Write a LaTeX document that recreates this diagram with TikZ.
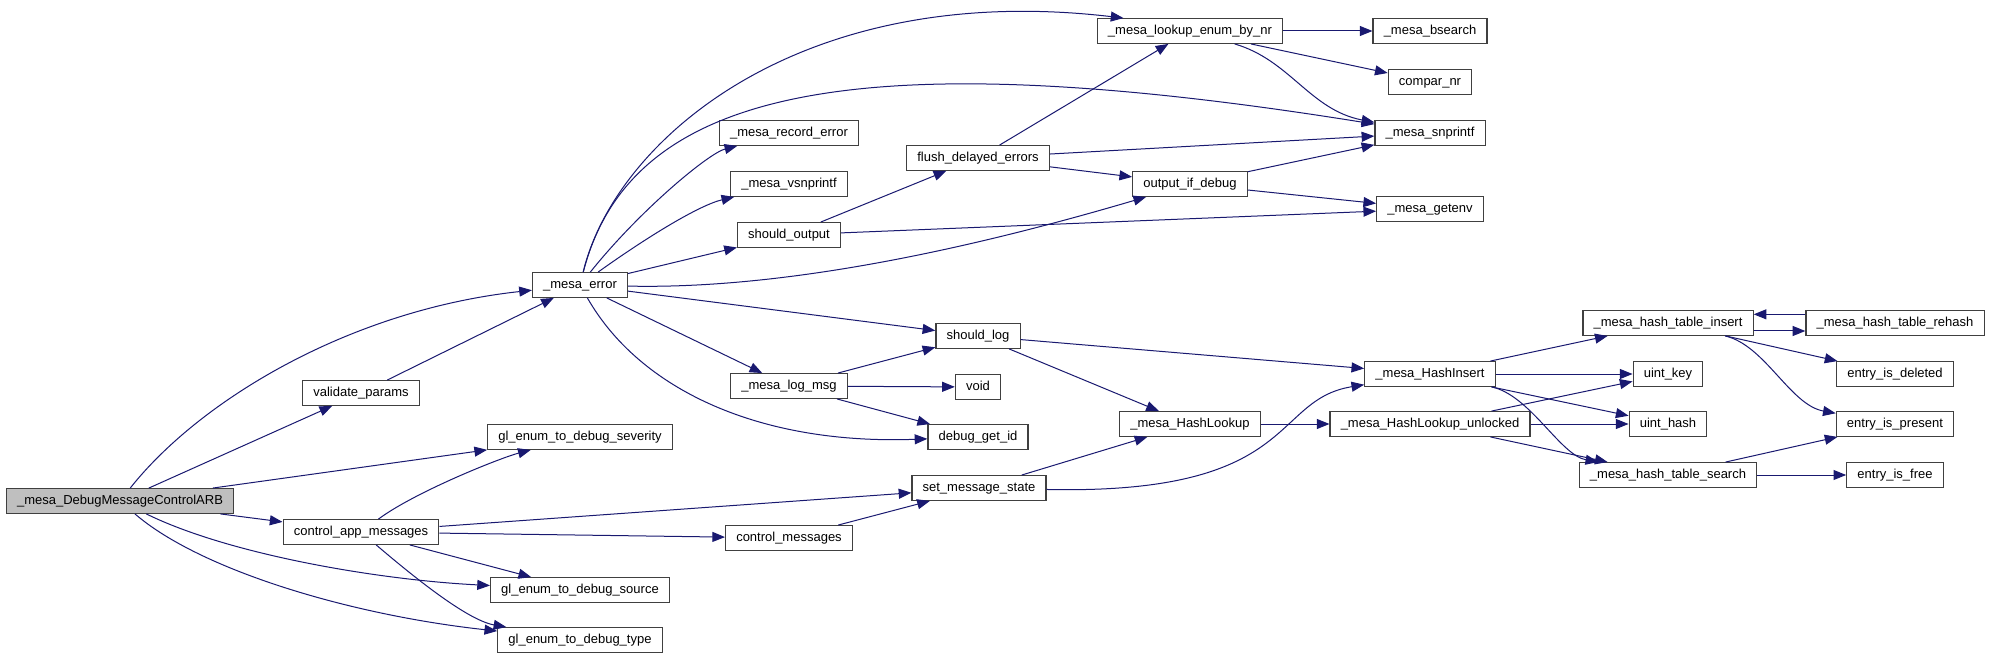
\documentclass[tikz,border=0pt]{standalone}
\usepackage{fontspec}
\setmainfont{Liberation Sans}
\usepackage{xcolor}
\usepackage{tikz}
\usetikzlibrary{arrows.meta}
\definecolor{callblue}{HTML}{191970}
\definecolor{rootgray}{HTML}{BFBFBF}
\definecolor{boxline}{HTML}{404040}

\begin{document}
\begin{tikzpicture}[x=0.75pt, y=-0.75pt,
    fn/.style={rectangle, draw=boxline, fill=white, line width=0.9pt, minimum height=18.5pt, inner xsep=8pt, inner ysep=1pt, text height=7pt, text depth=2pt, font=\fontsize{9.75}{11}\selectfont},
    call/.style={draw=callblue, line width=0.75pt, -{Triangle[length=9.5pt,width=7.5pt]}}]
    \useasboundingbox[fill=white] (0,0) rectangle (1989,659);

    \node (root) [fn, fill=rootgray] at (120,501) {\_mesa\_DebugMessageControlARB};
    \node (vp) [fn] at (361,393) {validate\_params};
    \node (err) [fn] at (580,285) {\_mesa\_error};
    \node (sev) [fn] at (580,437) {gl\_enum\_to\_debug\_severity};
    \node (cam) [fn] at (361,532) {control\_app\_messages};
    \node (src) [fn] at (580,590) {gl\_enum\_to\_debug\_source};
    \node (typ) [fn] at (580,640) {gl\_enum\_to\_debug\_type};
    \node (lookup) [fn] at (1190,31) {\_mesa\_lookup\_enum\_by\_nr};
    \node (bsearch) [fn] at (1430,31) {\_mesa\_bsearch};
    \node (compar) [fn] at (1430,82) {compar\_nr};
    \node (snp) [fn] at (1430,133) {\_mesa\_snprintf};
    \node (rec) [fn] at (789,133) {\_mesa\_record\_error};
    \node (vsn) [fn] at (789,184) {\_mesa\_vsnprintf};
    \node (sout) [fn] at (789,235) {should\_output};
    \node (flush) [fn] at (978,158) {flush\_delayed\_errors};
    \node (oid) [fn] at (1190,184) {output\_if\_debug};
    \node (getenv) [fn] at (1430,209) {\_mesa\_getenv};
    \node (slog) [fn] at (978,336) {should\_log};
    \node (lmsg) [fn] at (789,386) {\_mesa\_log\_msg};
    \node (void) [fn] at (978,387) {void};
    \node (dgi) [fn] at (978,437) {debug\_get\_id};
    \node (sms) [fn] at (979,488) {set\_message\_state};
    \node (cmsg) [fn] at (789,538) {control\_messages};
    \node (hlook) [fn] at (1190,424) {\_mesa\_HashLookup};
    \node (hins) [fn] at (1430,374) {\_mesa\_HashInsert};
    \node (hlu) [fn] at (1430,424) {\_mesa\_HashLookup\_unlocked};
    \node (tins) [fn] at (1668,323) {\_mesa\_hash\_table\_insert};
    \node (trh) [fn] at (1895,323) {\_mesa\_hash\_table\_rehash};
    \node (ukey) [fn] at (1668,374) {uint\_key};
    \node (uhash) [fn] at (1668,424) {uint\_hash};
    \node (tsrch) [fn] at (1668,475) {\_mesa\_hash\_table\_search};
    \node (edel) [fn] at (1895,374) {entry\_is\_deleted};
    \node (epres) [fn] at (1895,424) {entry\_is\_present};
    \node (efree) [fn] at (1895,475) {entry\_is\_free};

    \draw [call] (root) .. controls (200,400) and (350,310) .. (err);
    \draw [call] (root) -- (vp);
    \draw [call] (root) -- (sev);
    \draw [call] (root) -- (cam);
    \draw [call] (root) .. controls (230,555) and (380,580) .. (src);
    \draw [call] (root) .. controls (200,570) and (350,615) .. (typ);
    \draw [call] (vp) -- (err);
    \draw [call] (cam) .. controls (415,492) and (500,458) .. (sev);
    \draw [call] (cam) -- (sms);
    \draw [call] (cam) -- (cmsg);
    \draw [call] (cam) -- (src);
    \draw [call] (cam) .. controls (408,572) and (466,620) .. (typ);
    \draw [call] (err) .. controls (615,140) and (800,-20) .. (lookup.169);
    \draw [call] (err) .. controls (630,90) and (850,40) .. (snp);
    \draw [call] (err) .. controls (640,210) and (709,153) .. (rec);
    \draw [call] (err) .. controls (650,235) and (700,205) .. (vsn);
    \draw [call] (err) -- (sout);
    \draw [call] (err) .. controls (800,290) and (1000,240) .. (oid);
    \draw [call] (err) -- (slog);
    \draw [call] (err) -- (lmsg);
    \draw [call] (err) .. controls (640,390) and (760,445) .. (dgi);
    \draw [call] (sout) -- (flush);
    \draw [call] (sout) -- (getenv);
    \draw [call] (flush) -- (lookup);
    \draw [call] (flush) -- (snp);
    \draw [call] (flush) -- (oid);
    \draw [call] (oid) -- (snp);
    \draw [call] (oid) -- (getenv);
    \draw [call] (lookup) -- (bsearch);
    \draw [call] (lookup) -- (compar);
    \draw [call] (lookup) .. controls (1290,60) and (1310,110) .. (snp);
    \draw [call] (lmsg) -- (slog);
    \draw [call] (lmsg) -- (void);
    \draw [call] (lmsg) -- (dgi);
    \draw [call] (slog) -- (hins);
    \draw [call] (slog) -- (hlook);
    \draw [call] (sms) -- (hlook);
    \draw [call] (sms) .. controls (1300,495) and (1270,400) .. (hins);
    \draw [call] (cmsg) -- (sms);
    \draw [call] (hlook) -- (hlu);
    \draw [call] (hins) -- (tins);
    \draw [call] (hins) -- (ukey);
    \draw [call] (hins) -- (uhash);
    \draw [call] (hins) .. controls (1530,395) and (1560,455) .. (tsrch);
    \draw [call] (hlu) -- (ukey);
    \draw [call] (hlu) -- (uhash);
    \draw [call] (hlu) -- (tsrch);
    \draw [call] ([yshift=-6pt]tins.east) -- ([yshift=-6pt]trh.west);
    \draw [call] ([yshift=6.5pt]trh.west) -- ([yshift=6.5pt]tins.east);
    \draw [call] (tins) -- (edel);
    \draw [call] (tins) .. controls (1765,345) and (1790,405) .. (epres);
    \draw [call] (tsrch) -- (epres);
    \draw [call] (tsrch) -- (efree);
\end{tikzpicture}
\end{document}
